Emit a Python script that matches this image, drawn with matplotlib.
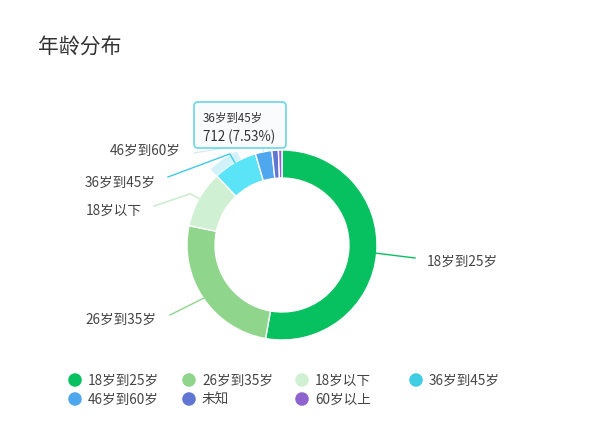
import numpy as np
import matplotlib
matplotlib.use('Agg')
import matplotlib.pyplot as plt
from matplotlib.patches import FancyBboxPatch

plt.rcParams['font.family'] = ['Noto Sans CJK SC', 'DejaVu Sans']

# data
title = '年龄分布'
age_groups = ['18岁到25岁', '26岁到35岁', '18岁以下', '36岁到45岁', '46岁到60岁', '未知', '60岁以上']
counts = [4989, 2411, 917, 712, 265, 104, 57]
colors = ['#07c160', '#8fd68c', '#d0f0d3', '#3fcde3', '#4fa7ee', '#6176d3', '#8f63cf']
hover_idx = 3
hover_color = '#5be3f8'
hover_ring = '#d0f2f8'

W, H = 592, 446
cx, cy, R = 282, 245, 95
hole = 0.705

fig = plt.figure(figsize=(W / 100, H / 100), dpi=100)

# pie axes placed so that radius 1 == R pixels
half = 1.3 * R
pax = fig.add_axes([(cx - half) / W, (H - cy - half) / H, 2 * half / W, 2 * half / H])
slice_colors = list(colors)
slice_colors[hover_idx] = hover_color
pax.pie(counts, colors=slice_colors, startangle=90, counterclock=False, radius=1,
        wedgeprops=dict(width=1 - hole, edgecolor='white', linewidth=1))

# faint outer ring on the hovered slice
total = sum(counts)
before = sum(counts[:hover_idx])
ring_part = counts[hover_idx] * 0.65
pax.pie([before, ring_part, total - before - ring_part], colors=['none', hover_ring, 'none'],
        startangle=90, counterclock=False, radius=1.095,
        wedgeprops=dict(width=0.095, edgecolor='none', linewidth=0))
pax.set_xlim(-1.3, 1.3)
pax.set_ylim(-1.3, 1.3)
pax.axis('off')

# overlay axes in pixel coordinates
ax = fig.add_axes([0, 0, 1, 1], zorder=5)
ax.set_xlim(0, W)
ax.set_ylim(H, 0)
ax.axis('off')
ax.patch.set_alpha(0)

ax.text(38, 48, title, fontsize=15, color='#333333', va='center', ha='left')

# outside labels: text position and where the leader line ends
label_idx = [0, 1, 2, 3, 4]
label_xy = [(427, 262), (85, 319.5), (86, 210.5), (85, 182.5), (110, 150.5)]
line_end = [(415, 258), (170, 315), (154, 206), (168, 177), (194, 153)]
elbow_r = [95, 95, 105, 105, 105]
line_colors = ['#07c160', '#8fd68c', '#c6ebc9', '#3fcde3', '#d9ecf6']

cum = np.cumsum([0] + counts)
for k, i in enumerate(label_idx):
    mid = (cum[i] + cum[i + 1]) / 2 / total * 2 * np.pi
    sx, sy = cx + R * np.sin(mid), cy - R * np.cos(mid)
    ex, ey = cx + elbow_r[k] * np.sin(mid), cy - elbow_r[k] * np.cos(mid)
    lx, ly = line_end[k]
    ax.plot([sx, ex, lx], [sy, ey, ly], color=line_colors[k], lw=1, solid_joinstyle='round')
    tx, ty = label_xy[k]
    ax.text(tx, ty, age_groups[i], fontsize=9.8, color='#444444', va='center', ha='left')

# tooltip
tip = FancyBboxPatch((194, 102), 92, 46, boxstyle='round,pad=0,rounding_size=4',
                     facecolor='#fafbfc', edgecolor='#5fd3e6', lw=1.2, alpha=0.93, zorder=10)
ax.add_patch(tip)
pct = counts[hover_idx] / total * 100
ax.text(203, 118, age_groups[hover_idx], fontsize=8.3, color='#333333', va='center', ha='left', zorder=11)
ax.text(203, 137, f'{counts[hover_idx]} ({pct:.2f}%)', fontsize=9.6, color='#333333',
        va='center', ha='left', zorder=11)

# legend, row-major, 4 per row
leg_x = [75, 189, 302, 416]
leg_y = [380, 399]
for i, name in enumerate(age_groups):
    x = leg_x[i % 4]
    y = leg_y[i // 4]
    ax.scatter([x], [y], s=95, color=colors[i], edgecolors='none')
    ax.text(x + 13, y + 1, name, fontsize=9.8, color='#444444', va='center', ha='left')

fig.savefig('out.png', dpi=100, facecolor='white')
